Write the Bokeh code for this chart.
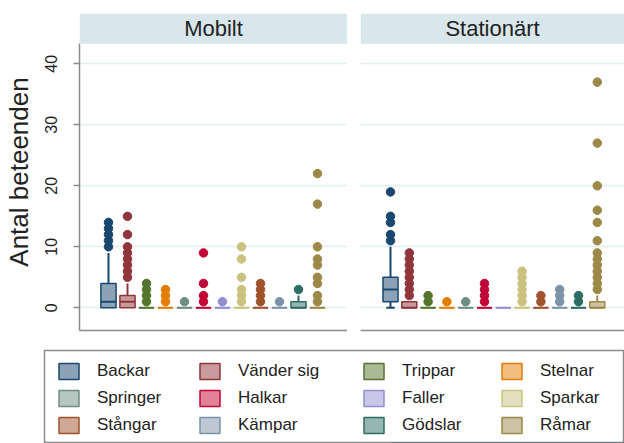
from bokeh.plotting import figure
from bokeh.models import (ColumnDataSource, FixedTicker, Range1d, BoxAnnotation,
                          Label, Legend, LegendItem)
from bokeh.layouts import column, row
from bokeh.embed import file_html
from bokeh.resources import INLINE

# ---------------- data ----------------
categories = ["Backar", "Vänder sig", "Trippar", "Stelnar", "Springer", "Halkar",
              "Faller", "Sparkar", "Stångar", "Kämpar", "Gödslar", "Råmar"]
panel_titles = ["Mobilt", "Stationärt"]
y_ticks = [0, 10, 20, 30, 40]
y_title = "Antal beteenden"

# Mobilt: box statistics
mob_q1 = [0, 0, 0, 0, 0, 0, 0, 0, 0, 0, 0, 0]
mob_med = [1, 1, 0, 0, 0, 0, 0, 0, 0, 0, 0, 0]
mob_q3 = [4, 2, 0, 0, 0, 0, 0, 0, 0, 0, 1, 0]
mob_lo = [0, 0, 0, 0, 0, 0, 0, 0, 0, 0, 0, 0]
mob_hi = [9, 4, 0, 0, 0, 0, 0, 0, 0, 0, 2, 0]
mob_out = [[10, 11, 12, 13, 14],
           [5, 6, 7, 8, 9, 10, 12, 15],
           [1, 2, 3, 4],
           [1, 2, 3],
           [1],
           [1, 2, 4, 9],
           [1],
           [1, 2, 3, 5, 8, 10],
           [1, 2, 3, 4],
           [1],
           [3],
           [1, 2, 4, 5, 7, 8, 10, 17, 22]]

# Stationärt: box statistics
sta_q1 = [1, 0, 0, 0, 0, 0, 0, 0, 0, 0, 0, 0]
sta_med = [3, 0, 0, 0, 0, 0, 0, 0, 0, 0, 0, 0]
sta_q3 = [5, 1, 0, 0, 0, 0, 0, 0, 0, 0, 0, 1]
sta_lo = [0, 0, 0, 0, 0, 0, 0, 0, 0, 0, 0, 0]
sta_hi = [10, 1, 0, 0, 0, 0, 0, 0, 0, 0, 0, 2]
sta_out = [[11, 12, 14, 15, 19],
           [2, 3, 4, 5, 6, 7, 8, 9],
           [1, 2],
           [1],
           [1],
           [1, 2, 3, 4],
           [],
           [1, 2, 3, 4, 5, 6],
           [1, 2],
           [1, 2, 3],
           [1, 2],
           [3, 4, 5, 6, 7, 8, 9, 11, 14, 16, 20, 27, 37]]

# ---------------- style ----------------
colors = ["#1a476f", "#90353b", "#55752f", "#e37e00", "#6e8e84", "#c10534",
          "#938dd2", "#cac27e", "#a0522d", "#7b92a8", "#2d6d66", "#9c8847"]
FONT = "Liberation Sans"
TXT = "#222222"
AXC = "#8a8a8a"
GRID = "#e4edf0"
STRIP = "#d9e6eb"

Y0, Y1 = -3.72, 48.25
STRIP_BOTTOM = 43.28
BOX_W = 0.8
CAP_W = 0.45


def draw_panel(p, q1, med, q3, lo, hi, out):
    xs = list(range(1, len(categories) + 1))
    src = ColumnDataSource(dict(x=xs, q1=q1, med=med, q3=q3, lo=lo, hi=hi,
                                color=colors,
                                l=[x - BOX_W / 2 for x in xs],
                                r=[x + BOX_W / 2 for x in xs]))
    # whiskers
    p.segment(x0="x", y0="q3", x1="x", y1="hi", source=src, line_color="color",
              line_width=2)
    p.segment(x0="x", y0="q1", x1="x", y1="lo", source=src, line_color="color",
              line_width=2)
    # cap on the lower whisker where one exists
    cx, cy, cc = [], [], []
    for i, x in enumerate(xs):
        if lo[i] < q1[i]:
            cx.append(x); cy.append(lo[i]); cc.append(colors[i])
    csrc = ColumnDataSource(dict(x0=[x - CAP_W / 2 for x in cx],
                                 x1=[x + CAP_W / 2 for x in cx], y=cy, c=cc))
    p.segment(x0="x0", y0="y", x1="x1", y1="y", source=csrc, line_color="c",
              line_width=2)
    # boxes
    p.vbar(x="x", width=BOX_W, bottom="q1", top="q3", source=src,
           fill_color="color", fill_alpha=0.5, line_color="color", line_width=1.5)
    # median
    p.segment(x0="l", y0="med", x1="r", y1="med", source=src, line_color="color",
              line_width=2)
    # outside values
    ox, oy, oc = [], [], []
    for i, vals in enumerate(out):
        for v in vals:
            ox.append(xs[i]); oy.append(v); oc.append(colors[i])
    osrc = ColumnDataSource(dict(x=ox, y=oy, c=oc))
    p.scatter(x="x", y="y", source=osrc, size=8.5, fill_color="c", line_color="c",
              line_width=1)


def make_panel(title, width, border_left, xr, with_yaxis, stats):
    p = figure(width=width, height=338, output_backend="svg", toolbar_location=None,
               x_range=xr, y_range=Range1d(Y0, Y1),
               y_axis_location="left" if with_yaxis else None,
               min_border_left=border_left, min_border_right=0,
               min_border_top=13, min_border_bottom=8)
    p.outline_line_color = None
    p.background_fill_color = "white"
    p.border_fill_color = "white"
    p.xgrid.visible = False
    p.ygrid.ticker = FixedTicker(ticks=y_ticks)
    p.ygrid.grid_line_color = GRID
    p.ygrid.grid_line_width = 1.5
    # x axis: only its line
    p.xaxis.ticker = FixedTicker(ticks=[])
    p.xaxis.major_tick_out = 0
    p.xaxis.major_tick_in = 0
    p.xaxis.minor_tick_out = 0
    p.xaxis.major_label_text_font_size = "0px"
    p.xaxis.axis_line_color = AXC
    p.xaxis.axis_line_width = 1.5
    if with_yaxis:
        ax = p.yaxis[0]
        ax.ticker = FixedTicker(ticks=y_ticks)
        ax.bounds = (Y0, STRIP_BOTTOM)
        ax.axis_label = y_title
        ax.axis_label_text_font = FONT
        ax.axis_label_text_font_size = "26px"
        ax.axis_label_text_font_style = "normal"
        ax.axis_label_text_color = TXT
        ax.axis_label_standoff = 9
        ax.major_label_orientation = "vertical"
        ax.major_label_text_font = FONT
        ax.major_label_text_font_size = "16px"
        ax.major_label_text_color = TXT
        ax.major_label_standoff = 16
        ax.major_tick_out = 6
        ax.major_tick_in = 0
        ax.minor_tick_out = 0
        ax.minor_tick_in = 0
        ax.axis_line_color = AXC
        ax.axis_line_width = 1.5
        ax.major_tick_line_color = AXC
        ax.major_tick_line_width = 1.5
    strip = BoxAnnotation(bottom=STRIP_BOTTOM, fill_color=STRIP, fill_alpha=1.0,
                          line_color=None)
    p.add_layout(strip)
    p.add_layout(Label(x=(xr.start + xr.end) / 2, y=(STRIP_BOTTOM + Y1) / 2,
                       text=title, text_align="center", text_baseline="middle",
                       text_font=FONT, text_font_size="22px", text_color=TXT))
    draw_panel(p, *stats)
    return p


p1 = make_panel(panel_titles[0], 347, 79, Range1d(-0.526, 13.58), True,
                (mob_q1, mob_med, mob_q3, mob_lo, mob_hi, mob_out))
p2 = make_panel(panel_titles[1], 277, 13, Range1d(-0.596, 13.447), False,
                (sta_q1, sta_med, sta_q3, sta_lo, sta_hi, sta_out))

# ---------------- legend figure ----------------
# the frame outline of this legend-only figure is the legend's border
p3 = figure(width=624, height=105, output_backend="svg", toolbar_location=None,
            x_range=Range1d(0, 1), y_range=Range1d(1000, 1001),
            x_axis_location=None, y_axis_location=None,
            min_border_left=44, min_border_top=12, min_border_right=1,
            min_border_bottom=0)
p3.outline_line_color = "#8c8c8c"
p3.outline_line_width = 1.5
p3.xgrid.visible = False
p3.ygrid.visible = False
# legend proxy glyphs (outside the visible range of this legend-only figure)
proxy = ColumnDataSource(dict(x=list(range(1, len(categories) + 1)),
                              b=mob_q1, t=mob_q3, color=colors))
r = p3.vbar(x="x", width=BOX_W, bottom="b", top="t", source=proxy,
            fill_color="color", fill_alpha=0.5, line_color="color", line_width=1.5)
col_x = [12, 153, 317, 455]          # left edge of each legend column in the frame
for c in range(4):
    items = [LegendItem(label=categories[i], renderers=[r], index=i)
             for i in range(c, len(categories), 4)]
    leg = Legend(items=items, orientation="vertical", location=(col_x[c], 8),
                 glyph_width=25, glyph_height=20, label_standoff=16,
                 label_width=0, label_height=20, spacing=7, padding=0, margin=0,
                 label_text_font=FONT, label_text_font_size="17px",
                 label_text_color=TXT, border_line_color=None,
                 background_fill_alpha=0.0)
    p3.add_layout(leg)

layout = column(row(p1, p2), p3)
open("out.html", "w").write(file_html(layout, INLINE))
